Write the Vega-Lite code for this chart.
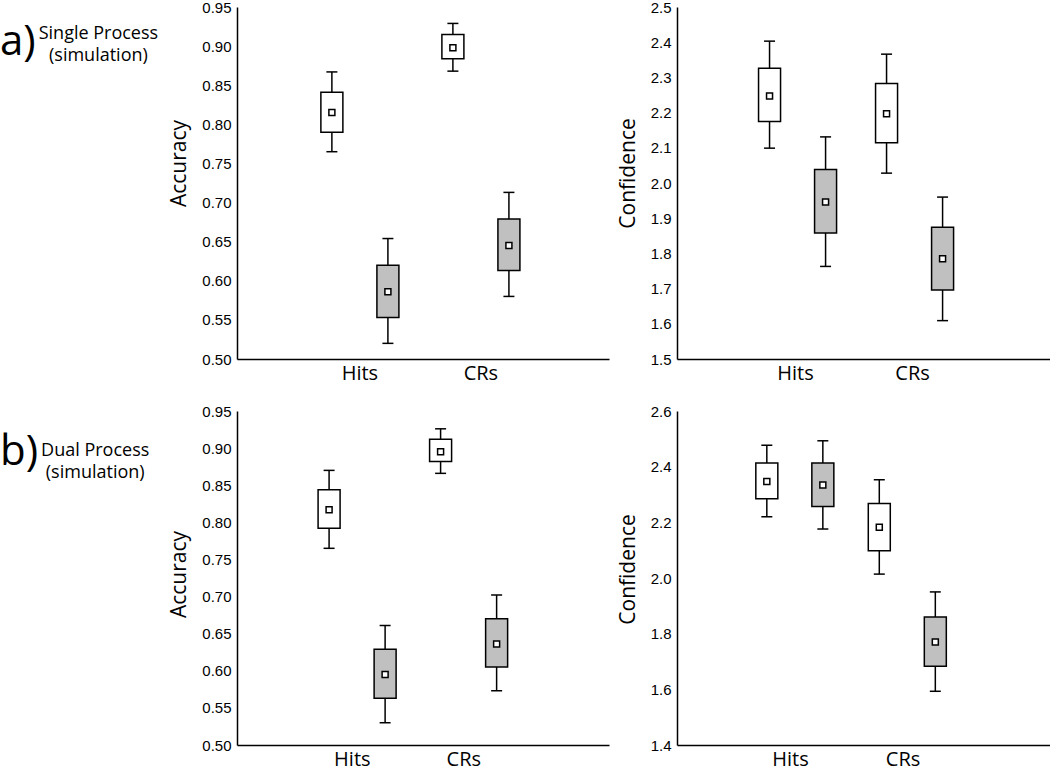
{
  "$schema": "https://vega.github.io/schema/vega-lite/v6.json",
  "padding": {"left": 0, "top": 0, "right": 0, "bottom": 4},
  "background": "white",
  "config": {
    "view": {"stroke": null},
    "font": "Liberation Sans",
    "axis": {"domainColor": "black", "domainWidth": 1.5, "ticks": false, "tickSize": 0, "grid": false, "labelColor": "black", "titleColor": "black", "labelFontSize": 15, "labelFont": "Liberation Sans", "labelPadding": 6, "labelOverlap": false, "labelSeparation": 0, "titleFont": "Open Sans", "titleFontSize": 21, "titleFontWeight": "normal", "titlePadding": 12},
    "axisX": {"labelFont": "Open Sans", "labelFontSize": 20, "labelAngle": 0, "labelPadding": 4}
  },
  "datasets": {
    "box": [
      {"panel": "a_acc", "cond": "Hits", "type": "white", "lo": 0.765, "q1": 0.790, "mean": 0.815, "q3": 0.841, "hi": 0.867},
      {"panel": "a_acc", "cond": "Hits", "type": "gray", "lo": 0.520, "q1": 0.553, "mean": 0.586, "q3": 0.620, "hi": 0.654},
      {"panel": "a_acc", "cond": "CRs", "type": "white", "lo": 0.868, "q1": 0.884, "mean": 0.898, "q3": 0.915, "hi": 0.929},
      {"panel": "a_acc", "cond": "CRs", "type": "gray", "lo": 0.580, "q1": 0.613, "mean": 0.645, "q3": 0.679, "hi": 0.713},
      {"panel": "a_conf", "cond": "Hits", "type": "white", "lo": 2.099, "q1": 2.175, "mean": 2.247, "q3": 2.326, "hi": 2.403},
      {"panel": "a_conf", "cond": "Hits", "type": "gray", "lo": 1.763, "q1": 1.858, "mean": 1.946, "q3": 2.038, "hi": 2.131},
      {"panel": "a_conf", "cond": "CRs", "type": "white", "lo": 2.028, "q1": 2.114, "mean": 2.197, "q3": 2.283, "hi": 2.366},
      {"panel": "a_conf", "cond": "CRs", "type": "gray", "lo": 1.609, "q1": 1.696, "mean": 1.785, "q3": 1.874, "hi": 1.960},
      {"panel": "b_acc", "cond": "Hits", "type": "white", "lo": 0.765, "q1": 0.792, "mean": 0.817, "q3": 0.844, "hi": 0.870},
      {"panel": "b_acc", "cond": "Hits", "type": "gray", "lo": 0.530, "q1": 0.563, "mean": 0.595, "q3": 0.629, "hi": 0.661},
      {"panel": "b_acc", "cond": "CRs", "type": "white", "lo": 0.866, "q1": 0.882, "mean": 0.895, "q3": 0.912, "hi": 0.926},
      {"panel": "b_acc", "cond": "CRs", "type": "gray", "lo": 0.573, "q1": 0.605, "mean": 0.636, "q3": 0.670, "hi": 0.702},
      {"panel": "b_conf", "cond": "Hits", "type": "white", "lo": 2.220, "q1": 2.285, "mean": 2.347, "q3": 2.413, "hi": 2.477},
      {"panel": "b_conf", "cond": "Hits", "type": "gray", "lo": 2.176, "q1": 2.257, "mean": 2.334, "q3": 2.413, "hi": 2.493},
      {"panel": "b_conf", "cond": "CRs", "type": "white", "lo": 2.014, "q1": 2.098, "mean": 2.182, "q3": 2.268, "hi": 2.353},
      {"panel": "b_conf", "cond": "CRs", "type": "gray", "lo": 1.593, "q1": 1.683, "mean": 1.770, "q3": 1.860, "hi": 1.950}
    ],
    "labels": [
      {"panel": "a", "tag": "a)", "name": "Single Process\n(simulation)"},
      {"panel": "b", "tag": "b)", "name": "Dual Process\n(simulation)"}
    ]
  },
  "vconcat": [
    {
      "spacing": 8,
      "hconcat": [
        {
          "width": 160, "height": 352,
          "data": {"name": "labels"},
          "transform": [{"filter": "datum.panel == 'a'"}],
          "layer": [
            {"mark": {"type": "text", "font": "Open Sans", "fontSize": 42, "align": "left", "baseline": "middle", "color": "black"},
             "encoding": {"text": {"field": "tag"},
               "x": {"datum": 0, "type": "quantitative", "scale": {"domain": [0, 1]}, "axis": null},
               "y": {"datum": 0.9, "type": "quantitative", "scale": {"domain": [0, 1]}, "axis": null}}},
            {"mark": {"type": "text", "font": "Open Sans", "fontSize": 18, "align": "center", "baseline": "top", "lineBreak": "\n", "lineHeight": 22, "color": "black"},
             "encoding": {"text": {"field": "name"},
               "x": {"datum": 0.615, "type": "quantitative"},
               "y": {"datum": 0.948, "type": "quantitative"}}}
          ]
        },
        {
          "width": 372, "height": 352,
          "data": {"name": "box"},
          "transform": [{"filter": "datum.panel == 'a_acc'"}],
          "encoding": {
            "x": {"field": "cond", "type": "nominal", "sort": ["Hits", "CRs"], "scale": {"paddingInner": 0, "paddingOuter": 0.537, "align": 0.48}, "axis": {"title": null}},
            "xOffset": {"field": "type", "type": "nominal", "sort": ["white", "gray"], "scale": {"paddingInner": 0, "paddingOuter": 0.08}}
          },
          "layer": [
            {"mark": {"type": "rule", "stroke": "black", "strokeWidth": 1.5},
             "encoding": {"y": {"field": "lo", "type": "quantitative", "scale": {"domain": [0.5, 0.95], "nice": false, "zero": false}, "axis": {"title": "Accuracy", "titleY": 156, "values": [0.5, 0.55, 0.6, 0.65, 0.7, 0.75, 0.8, 0.85, 0.9, 0.95], "format": ".2f", "labelOverlap": false}}, "y2": {"field": "hi"}}},
            {"mark": {"type": "tick", "color": "black", "thickness": 1.5, "size": 11, "opacity": 1},
             "encoding": {"y": {"field": "lo", "type": "quantitative", "axis": {"title": "Accuracy", "titleY": 156, "values": [0.5, 0.55, 0.6, 0.65, 0.7, 0.75, 0.8, 0.85, 0.9, 0.95], "format": ".2f", "labelOverlap": false}}}},
            {"mark": {"type": "tick", "color": "black", "thickness": 1.5, "size": 11, "opacity": 1},
             "encoding": {"y": {"field": "hi", "type": "quantitative", "axis": {"title": "Accuracy", "titleY": 156, "values": [0.5, 0.55, 0.6, 0.65, 0.7, 0.75, 0.8, 0.85, 0.9, 0.95], "format": ".2f", "labelOverlap": false}}}},
            {"mark": {"type": "bar", "width": 22, "stroke": "black", "strokeWidth": 1.5},
             "encoding": {"y": {"field": "q1", "type": "quantitative", "axis": {"title": "Accuracy", "titleY": 156, "values": [0.5, 0.55, 0.6, 0.65, 0.7, 0.75, 0.8, 0.85, 0.9, 0.95], "format": ".2f", "labelOverlap": false}}, "y2": {"field": "q3"},
               "fill": {"field": "type", "type": "nominal", "scale": {"domain": ["white", "gray"], "range": ["white", "#c0c0c0"]}, "legend": null}}},
            {"mark": {"type": "point", "shape": "square", "size": 36, "fill": "white", "stroke": "black", "strokeWidth": 1.5, "opacity": 1},
             "encoding": {"y": {"field": "mean", "type": "quantitative", "axis": {"title": "Accuracy", "titleY": 156, "values": [0.5, 0.55, 0.6, 0.65, 0.7, 0.75, 0.8, 0.85, 0.9, 0.95], "format": ".2f", "labelOverlap": false}}}}
          ]
        },
        {
          "width": 377, "height": 352,
          "data": {"name": "box"},
          "transform": [{"filter": "datum.panel == 'a_conf'"}],
          "encoding": {
            "x": {"field": "cond", "type": "nominal", "sort": ["Hits", "CRs"], "scale": {"paddingInner": 0, "paddingOuter": 0.611, "align": 0.42}, "axis": {"title": null}},
            "xOffset": {"field": "type", "type": "nominal", "sort": ["white", "gray"], "scale": {"paddingInner": 0, "paddingOuter": 0.01}}
          },
          "layer": [
            {"mark": {"type": "rule", "stroke": "black", "strokeWidth": 1.5},
             "encoding": {"y": {"field": "lo", "type": "quantitative", "scale": {"domain": [1.5, 2.5], "nice": false, "zero": false}, "axis": {"title": "Confidence", "titleY": 166, "values": [1.5, 1.6, 1.7, 1.8, 1.9, 2.0, 2.1, 2.2, 2.3, 2.4, 2.5], "format": ".1f", "labelOverlap": false}}, "y2": {"field": "hi"}}},
            {"mark": {"type": "tick", "color": "black", "thickness": 1.5, "size": 11, "opacity": 1},
             "encoding": {"y": {"field": "lo", "type": "quantitative", "axis": {"title": "Confidence", "titleY": 166, "values": [1.5, 1.6, 1.7, 1.8, 1.9, 2.0, 2.1, 2.2, 2.3, 2.4, 2.5], "format": ".1f", "labelOverlap": false}}}},
            {"mark": {"type": "tick", "color": "black", "thickness": 1.5, "size": 11, "opacity": 1},
             "encoding": {"y": {"field": "hi", "type": "quantitative", "axis": {"title": "Confidence", "titleY": 166, "values": [1.5, 1.6, 1.7, 1.8, 1.9, 2.0, 2.1, 2.2, 2.3, 2.4, 2.5], "format": ".1f", "labelOverlap": false}}}},
            {"mark": {"type": "bar", "width": 22, "stroke": "black", "strokeWidth": 1.5},
             "encoding": {"y": {"field": "q1", "type": "quantitative", "axis": {"title": "Confidence", "titleY": 166, "values": [1.5, 1.6, 1.7, 1.8, 1.9, 2.0, 2.1, 2.2, 2.3, 2.4, 2.5], "format": ".1f", "labelOverlap": false}}, "y2": {"field": "q3"},
               "fill": {"field": "type", "type": "nominal", "scale": {"domain": ["white", "gray"], "range": ["white", "#c0c0c0"]}, "legend": null}}},
            {"mark": {"type": "point", "shape": "square", "size": 36, "fill": "white", "stroke": "black", "strokeWidth": 1.5, "opacity": 1},
             "encoding": {"y": {"field": "mean", "type": "quantitative", "axis": {"title": "Confidence", "titleY": 166, "values": [1.5, 1.6, 1.7, 1.8, 1.9, 2.0, 2.1, 2.2, 2.3, 2.4, 2.5], "format": ".1f", "labelOverlap": false}}}}
          ]
        }
      ]
    },
    {
      "spacing": 8,
      "hconcat": [
        {
          "width": 160, "height": 334,
          "data": {"name": "labels"},
          "transform": [{"filter": "datum.panel == 'b'"}],
          "layer": [
            {"mark": {"type": "text", "font": "Open Sans", "fontSize": 42, "align": "left", "baseline": "middle", "color": "black"},
             "encoding": {"text": {"field": "tag"},
               "x": {"datum": 0, "type": "quantitative", "scale": {"domain": [0, 1]}, "axis": null},
               "y": {"datum": 0.876, "type": "quantitative", "scale": {"domain": [0, 1]}, "axis": null}}},
            {"mark": {"type": "text", "font": "Open Sans", "fontSize": 18, "align": "center", "baseline": "top", "lineBreak": "\n", "lineHeight": 22, "color": "black"},
             "encoding": {"text": {"field": "name"},
               "x": {"datum": 0.595, "type": "quantitative"},
               "y": {"datum": 0.906, "type": "quantitative"}}}
          ]
        },
        {
          "width": 372, "height": 334,
          "data": {"name": "box"},
          "transform": [{"filter": "datum.panel == 'b_acc'"}],
          "encoding": {
            "x": {"field": "cond", "type": "nominal", "sort": ["Hits", "CRs"], "scale": {"paddingInner": 0, "paddingOuter": 0.668, "align": 0.40}, "axis": {"title": null}},
            "xOffset": {"field": "type", "type": "nominal", "sort": ["white", "gray"], "scale": {"paddingInner": 0, "paddingOuter": 0.05}}
          },
          "layer": [
            {"mark": {"type": "rule", "stroke": "black", "strokeWidth": 1.5},
             "encoding": {"y": {"field": "lo", "type": "quantitative", "scale": {"domain": [0.5, 0.95], "nice": false, "zero": false}, "axis": {"title": "Accuracy", "titleY": 163, "values": [0.5, 0.55, 0.6, 0.65, 0.7, 0.75, 0.8, 0.85, 0.9, 0.95], "format": ".2f", "labelOverlap": false}}, "y2": {"field": "hi"}}},
            {"mark": {"type": "tick", "color": "black", "thickness": 1.5, "size": 11, "opacity": 1},
             "encoding": {"y": {"field": "lo", "type": "quantitative", "axis": {"title": "Accuracy", "titleY": 163, "values": [0.5, 0.55, 0.6, 0.65, 0.7, 0.75, 0.8, 0.85, 0.9, 0.95], "format": ".2f", "labelOverlap": false}}}},
            {"mark": {"type": "tick", "color": "black", "thickness": 1.5, "size": 11, "opacity": 1},
             "encoding": {"y": {"field": "hi", "type": "quantitative", "axis": {"title": "Accuracy", "titleY": 163, "values": [0.5, 0.55, 0.6, 0.65, 0.7, 0.75, 0.8, 0.85, 0.9, 0.95], "format": ".2f", "labelOverlap": false}}}},
            {"mark": {"type": "bar", "width": 22, "stroke": "black", "strokeWidth": 1.5},
             "encoding": {"y": {"field": "q1", "type": "quantitative", "axis": {"title": "Accuracy", "titleY": 163, "values": [0.5, 0.55, 0.6, 0.65, 0.7, 0.75, 0.8, 0.85, 0.9, 0.95], "format": ".2f", "labelOverlap": false}}, "y2": {"field": "q3"},
               "fill": {"field": "type", "type": "nominal", "scale": {"domain": ["white", "gray"], "range": ["white", "#c0c0c0"]}, "legend": null}}},
            {"mark": {"type": "point", "shape": "square", "size": 36, "fill": "white", "stroke": "black", "strokeWidth": 1.5, "opacity": 1},
             "encoding": {"y": {"field": "mean", "type": "quantitative", "axis": {"title": "Accuracy", "titleY": 163, "values": [0.5, 0.55, 0.6, 0.65, 0.7, 0.75, 0.8, 0.85, 0.9, 0.95], "format": ".2f", "labelOverlap": false}}}}
          ]
        },
        {
          "width": 377, "height": 334,
          "data": {"name": "box"},
          "transform": [{"filter": "datum.panel == 'b_conf'"}],
          "encoding": {
            "x": {"field": "cond", "type": "nominal", "sort": ["Hits", "CRs"], "scale": {"paddingInner": 0, "paddingOuter": 0.676, "align": 0.377}, "axis": {"title": null}},
            "xOffset": {"field": "type", "type": "nominal", "sort": ["white", "gray"], "scale": {"paddingInner": 0, "paddingOuter": 0.015}}
          },
          "layer": [
            {"mark": {"type": "rule", "stroke": "black", "strokeWidth": 1.5},
             "encoding": {"y": {"field": "lo", "type": "quantitative", "scale": {"domain": [1.4, 2.6], "nice": false, "zero": false}, "axis": {"title": "Confidence", "titleY": 158, "values": [1.4, 1.6, 1.8, 2.0, 2.2, 2.4, 2.6], "format": ".1f", "labelOverlap": false}}, "y2": {"field": "hi"}}},
            {"mark": {"type": "tick", "color": "black", "thickness": 1.5, "size": 11, "opacity": 1},
             "encoding": {"y": {"field": "lo", "type": "quantitative", "axis": {"title": "Confidence", "titleY": 158, "values": [1.4, 1.6, 1.8, 2.0, 2.2, 2.4, 2.6], "format": ".1f", "labelOverlap": false}}}},
            {"mark": {"type": "tick", "color": "black", "thickness": 1.5, "size": 11, "opacity": 1},
             "encoding": {"y": {"field": "hi", "type": "quantitative", "axis": {"title": "Confidence", "titleY": 158, "values": [1.4, 1.6, 1.8, 2.0, 2.2, 2.4, 2.6], "format": ".1f", "labelOverlap": false}}}},
            {"mark": {"type": "bar", "width": 22, "stroke": "black", "strokeWidth": 1.5},
             "encoding": {"y": {"field": "q1", "type": "quantitative", "axis": {"title": "Confidence", "titleY": 158, "values": [1.4, 1.6, 1.8, 2.0, 2.2, 2.4, 2.6], "format": ".1f", "labelOverlap": false}}, "y2": {"field": "q3"},
               "fill": {"field": "type", "type": "nominal", "scale": {"domain": ["white", "gray"], "range": ["white", "#c0c0c0"]}, "legend": null}}},
            {"mark": {"type": "point", "shape": "square", "size": 36, "fill": "white", "stroke": "black", "strokeWidth": 1.5, "opacity": 1},
             "encoding": {"y": {"field": "mean", "type": "quantitative", "axis": {"title": "Confidence", "titleY": 158, "values": [1.4, 1.6, 1.8, 2.0, 2.2, 2.4, 2.6], "format": ".1f", "labelOverlap": false}}}}
          ]
        }
      ]
    }
  ],
  "spacing": 21
}
